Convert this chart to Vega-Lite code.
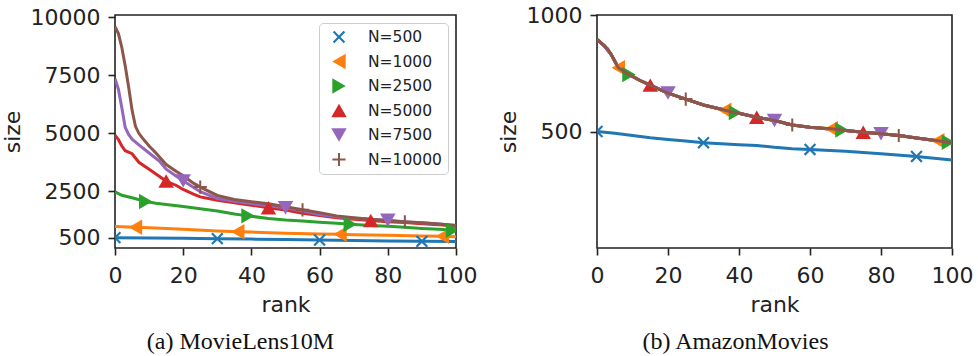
{
  "$schema": "https://vega.github.io/schema/vega-lite/v6.json",
  "background": "white",
  "padding": {"left": 0, "top": 3, "right": 0, "bottom": 0},
  "config": {
    "font": "DejaVu Sans",
    "view": {"stroke": "#222222", "strokeWidth": 1.6},
    "axis": {
      "grid": false,
      "domain": false,
      "ticks": true,
      "tickColor": "#222222",
      "tickSize": 7,
      "tickWidth": 1.6,
      "labelFont": "DejaVu Sans",
      "labelFontSize": 22,
      "labelColor": "#222222",
      "labelPadding": 8,
      "labelFlush": false,
      "labelOverlap": false,
      "format": "d",
      "titleFont": "DejaVu Sans",
      "titleFontSize": 22,
      "titleFontWeight": "normal",
      "titleColor": "#222222",
      "titlePadding": 6
    },
    "axisX": {"labelPadding": 10, "titlePadding": 8},
    "legend": {
      "orient": "top-right",
      "offset": 8,
      "padding": 6,
      "fillColor": "rgba(255,255,255,0.85)",
      "strokeColor": "#cccccc",
      "cornerRadius": 4,
      "labelFont": "DejaVu Sans",
      "labelFontSize": 15.5,
      "labelColor": "#222222",
      "labelOffset": 21,
      "symbolOffset": 6,
      "symbolSize": 240,
      "symbolStrokeWidth": 0,
      "rowPadding": 7.5
    },
    "title": {"font": "Liberation Serif", "fontSize": 24, "fontWeight": "normal", "color": "#111111"}
  },
  "datasets": {
    "lines_a": [
      {"N": "N=500", "rank": 0, "size": 500}, {"N": "N=500", "rank": 10, "size": 487}, {"N": "N=500", "rank": 20, "size": 472}, {"N": "N=500", "rank": 30, "size": 457}, {"N": "N=500", "rank": 40, "size": 438}, {"N": "N=500", "rank": 50, "size": 420}, {"N": "N=500", "rank": 60, "size": 400}, {"N": "N=500", "rank": 70, "size": 382}, {"N": "N=500", "rank": 80, "size": 362}, {"N": "N=500", "rank": 90, "size": 342}, {"N": "N=500", "rank": 100, "size": 330},
      {"N": "N=1000", "rank": 0, "size": 980}, {"N": "N=1000", "rank": 6, "size": 950}, {"N": "N=1000", "rank": 10, "size": 925}, {"N": "N=1000", "rank": 20, "size": 860}, {"N": "N=1000", "rank": 30, "size": 790}, {"N": "N=1000", "rank": 36, "size": 758}, {"N": "N=1000", "rank": 40, "size": 740}, {"N": "N=1000", "rank": 50, "size": 690}, {"N": "N=1000", "rank": 60, "size": 660}, {"N": "N=1000", "rank": 66, "size": 644}, {"N": "N=1000", "rank": 70, "size": 630}, {"N": "N=1000", "rank": 80, "size": 600}, {"N": "N=1000", "rank": 90, "size": 570}, {"N": "N=1000", "rank": 96, "size": 557}, {"N": "N=1000", "rank": 100, "size": 545},
      {"N": "N=2500", "rank": 0, "size": 2480}, {"N": "N=2500", "rank": 2, "size": 2330}, {"N": "N=2500", "rank": 5, "size": 2220}, {"N": "N=2500", "rank": 9, "size": 2060}, {"N": "N=2500", "rank": 12, "size": 1980}, {"N": "N=2500", "rank": 15, "size": 1930}, {"N": "N=2500", "rank": 20, "size": 1840}, {"N": "N=2500", "rank": 25, "size": 1750}, {"N": "N=2500", "rank": 30, "size": 1650}, {"N": "N=2500", "rank": 35, "size": 1520}, {"N": "N=2500", "rank": 39, "size": 1440}, {"N": "N=2500", "rank": 45, "size": 1330}, {"N": "N=2500", "rank": 50, "size": 1260}, {"N": "N=2500", "rank": 55, "size": 1220}, {"N": "N=2500", "rank": 60, "size": 1170}, {"N": "N=2500", "rank": 65, "size": 1120}, {"N": "N=2500", "rank": 69, "size": 1080}, {"N": "N=2500", "rank": 75, "size": 1030}, {"N": "N=2500", "rank": 80, "size": 990}, {"N": "N=2500", "rank": 85, "size": 945}, {"N": "N=2500", "rank": 90, "size": 900}, {"N": "N=2500", "rank": 95, "size": 860}, {"N": "N=2500", "rank": 99, "size": 825}, {"N": "N=2500", "rank": 100, "size": 815},
      {"N": "N=5000", "rank": 0, "size": 4920}, {"N": "N=5000", "rank": 1, "size": 4730}, {"N": "N=5000", "rank": 2, "size": 4450}, {"N": "N=5000", "rank": 3, "size": 4250}, {"N": "N=5000", "rank": 5, "size": 4120}, {"N": "N=5000", "rank": 7, "size": 3750}, {"N": "N=5000", "rank": 10, "size": 3450}, {"N": "N=5000", "rank": 12, "size": 3250}, {"N": "N=5000", "rank": 15, "size": 2940}, {"N": "N=5000", "rank": 18, "size": 2750}, {"N": "N=5000", "rank": 20, "size": 2580}, {"N": "N=5000", "rank": 23, "size": 2380}, {"N": "N=5000", "rank": 25, "size": 2260}, {"N": "N=5000", "rank": 30, "size": 2110}, {"N": "N=5000", "rank": 35, "size": 2010}, {"N": "N=5000", "rank": 40, "size": 1900}, {"N": "N=5000", "rank": 45, "size": 1790}, {"N": "N=5000", "rank": 50, "size": 1690}, {"N": "N=5000", "rank": 55, "size": 1550}, {"N": "N=5000", "rank": 60, "size": 1460}, {"N": "N=5000", "rank": 65, "size": 1360}, {"N": "N=5000", "rank": 70, "size": 1290}, {"N": "N=5000", "rank": 75, "size": 1240}, {"N": "N=5000", "rank": 80, "size": 1190}, {"N": "N=5000", "rank": 85, "size": 1150}, {"N": "N=5000", "rank": 90, "size": 1100}, {"N": "N=5000", "rank": 95, "size": 1060}, {"N": "N=5000", "rank": 100, "size": 1000},
      {"N": "N=7500", "rank": 0, "size": 7350}, {"N": "N=7500", "rank": 1, "size": 6900}, {"N": "N=7500", "rank": 2, "size": 6100}, {"N": "N=7500", "rank": 3, "size": 5250}, {"N": "N=7500", "rank": 4, "size": 4950}, {"N": "N=7500", "rank": 5, "size": 4750}, {"N": "N=7500", "rank": 7, "size": 4500}, {"N": "N=7500", "rank": 10, "size": 4150}, {"N": "N=7500", "rank": 13, "size": 3800}, {"N": "N=7500", "rank": 15, "size": 3450}, {"N": "N=7500", "rank": 18, "size": 3150}, {"N": "N=7500", "rank": 20, "size": 2950}, {"N": "N=7500", "rank": 25, "size": 2480}, {"N": "N=7500", "rank": 30, "size": 2190}, {"N": "N=7500", "rank": 35, "size": 2070}, {"N": "N=7500", "rank": 40, "size": 1970}, {"N": "N=7500", "rank": 45, "size": 1880}, {"N": "N=7500", "rank": 50, "size": 1790}, {"N": "N=7500", "rank": 55, "size": 1650}, {"N": "N=7500", "rank": 60, "size": 1500}, {"N": "N=7500", "rank": 65, "size": 1400}, {"N": "N=7500", "rank": 70, "size": 1340}, {"N": "N=7500", "rank": 75, "size": 1290}, {"N": "N=7500", "rank": 80, "size": 1250}, {"N": "N=7500", "rank": 85, "size": 1190}, {"N": "N=7500", "rank": 90, "size": 1140}, {"N": "N=7500", "rank": 95, "size": 1090}, {"N": "N=7500", "rank": 100, "size": 1030},
      {"N": "N=10000", "rank": 0, "size": 9600}, {"N": "N=10000", "rank": 1, "size": 9300}, {"N": "N=10000", "rank": 2, "size": 8700}, {"N": "N=10000", "rank": 3, "size": 7900}, {"N": "N=10000", "rank": 4, "size": 7000}, {"N": "N=10000", "rank": 5, "size": 6000}, {"N": "N=10000", "rank": 6, "size": 5300}, {"N": "N=10000", "rank": 7, "size": 5000}, {"N": "N=10000", "rank": 8, "size": 4800}, {"N": "N=10000", "rank": 10, "size": 4450}, {"N": "N=10000", "rank": 12, "size": 4150}, {"N": "N=10000", "rank": 15, "size": 3650}, {"N": "N=10000", "rank": 18, "size": 3350}, {"N": "N=10000", "rank": 20, "size": 3170}, {"N": "N=10000", "rank": 23, "size": 2850}, {"N": "N=10000", "rank": 25, "size": 2680}, {"N": "N=10000", "rank": 30, "size": 2320}, {"N": "N=10000", "rank": 35, "size": 2150}, {"N": "N=10000", "rank": 40, "size": 2050}, {"N": "N=10000", "rank": 45, "size": 1960}, {"N": "N=10000", "rank": 50, "size": 1830}, {"N": "N=10000", "rank": 55, "size": 1700}, {"N": "N=10000", "rank": 60, "size": 1580}, {"N": "N=10000", "rank": 65, "size": 1440}, {"N": "N=10000", "rank": 70, "size": 1360}, {"N": "N=10000", "rank": 75, "size": 1290}, {"N": "N=10000", "rank": 80, "size": 1230}, {"N": "N=10000", "rank": 85, "size": 1180}, {"N": "N=10000", "rank": 90, "size": 1140}, {"N": "N=10000", "rank": 95, "size": 1090}, {"N": "N=10000", "rank": 100, "size": 1030}
    ],
    "markers_a": [
      {"N": "N=500", "rank": 0, "size": 500}, {"N": "N=500", "rank": 30, "size": 457}, {"N": "N=500", "rank": 60, "size": 400}, {"N": "N=500", "rank": 90, "size": 342},
      {"N": "N=1000", "rank": 6, "size": 950}, {"N": "N=1000", "rank": 36, "size": 758}, {"N": "N=1000", "rank": 66, "size": 644}, {"N": "N=1000", "rank": 96, "size": 557},
      {"N": "N=2500", "rank": 9, "size": 2060}, {"N": "N=2500", "rank": 39, "size": 1440}, {"N": "N=2500", "rank": 69, "size": 1080}, {"N": "N=2500", "rank": 99, "size": 825},
      {"N": "N=5000", "rank": 15, "size": 2940}, {"N": "N=5000", "rank": 45, "size": 1790}, {"N": "N=5000", "rank": 75, "size": 1240},
      {"N": "N=7500", "rank": 20, "size": 2950}, {"N": "N=7500", "rank": 50, "size": 1790}, {"N": "N=7500", "rank": 80, "size": 1250},
      {"N": "N=10000", "rank": 25, "size": 2680}, {"N": "N=10000", "rank": 55, "size": 1700}, {"N": "N=10000", "rank": 85, "size": 1180}
    ],
    "lines_b": [
      {"N": "N=500", "rank": 0, "size": 500}, {"N": "N=500", "rank": 5, "size": 492}, {"N": "N=500", "rank": 10, "size": 483}, {"N": "N=500", "rank": 15, "size": 473}, {"N": "N=500", "rank": 20, "size": 466}, {"N": "N=500", "rank": 25, "size": 459}, {"N": "N=500", "rank": 30, "size": 452}, {"N": "N=500", "rank": 40, "size": 443}, {"N": "N=500", "rank": 45, "size": 440}, {"N": "N=500", "rank": 50, "size": 432}, {"N": "N=500", "rank": 55, "size": 426}, {"N": "N=500", "rank": 60, "size": 423}, {"N": "N=500", "rank": 70, "size": 415}, {"N": "N=500", "rank": 80, "size": 405}, {"N": "N=500", "rank": 90, "size": 393}, {"N": "N=500", "rank": 100, "size": 378},
      {"N": "N=1000", "rank": 0, "size": 895}, {"N": "N=1000", "rank": 2, "size": 869}, {"N": "N=1000", "rank": 4, "size": 830}, {"N": "N=1000", "rank": 6, "size": 774}, {"N": "N=1000", "rank": 9, "size": 745}, {"N": "N=1000", "rank": 12, "size": 720}, {"N": "N=1000", "rank": 15, "size": 699}, {"N": "N=1000", "rank": 20, "size": 665}, {"N": "N=1000", "rank": 25, "size": 639}, {"N": "N=1000", "rank": 30, "size": 614}, {"N": "N=1000", "rank": 36, "size": 591}, {"N": "N=1000", "rank": 40, "size": 578}, {"N": "N=1000", "rank": 45, "size": 561}, {"N": "N=1000", "rank": 50, "size": 547}, {"N": "N=1000", "rank": 55, "size": 528}, {"N": "N=1000", "rank": 60, "size": 518}, {"N": "N=1000", "rank": 66, "size": 512}, {"N": "N=1000", "rank": 70, "size": 504}, {"N": "N=1000", "rank": 75, "size": 497}, {"N": "N=1000", "rank": 80, "size": 490}, {"N": "N=1000", "rank": 85, "size": 483}, {"N": "N=1000", "rank": 90, "size": 472}, {"N": "N=1000", "rank": 96, "size": 460}, {"N": "N=1000", "rank": 100, "size": 452},
      {"N": "N=2500", "rank": 0, "size": 895}, {"N": "N=2500", "rank": 2, "size": 869}, {"N": "N=2500", "rank": 4, "size": 830}, {"N": "N=2500", "rank": 6, "size": 774}, {"N": "N=2500", "rank": 9, "size": 745}, {"N": "N=2500", "rank": 12, "size": 720}, {"N": "N=2500", "rank": 15, "size": 699}, {"N": "N=2500", "rank": 20, "size": 665}, {"N": "N=2500", "rank": 25, "size": 639}, {"N": "N=2500", "rank": 30, "size": 614}, {"N": "N=2500", "rank": 39, "size": 581}, {"N": "N=2500", "rank": 45, "size": 561}, {"N": "N=2500", "rank": 50, "size": 547}, {"N": "N=2500", "rank": 55, "size": 528}, {"N": "N=2500", "rank": 60, "size": 518}, {"N": "N=2500", "rank": 69, "size": 506}, {"N": "N=2500", "rank": 75, "size": 497}, {"N": "N=2500", "rank": 80, "size": 490}, {"N": "N=2500", "rank": 85, "size": 483}, {"N": "N=2500", "rank": 90, "size": 472}, {"N": "N=2500", "rank": 99, "size": 454}, {"N": "N=2500", "rank": 100, "size": 452},
      {"N": "N=5000", "rank": 0, "size": 895}, {"N": "N=5000", "rank": 2, "size": 869}, {"N": "N=5000", "rank": 4, "size": 830}, {"N": "N=5000", "rank": 6, "size": 774}, {"N": "N=5000", "rank": 9, "size": 745}, {"N": "N=5000", "rank": 12, "size": 720}, {"N": "N=5000", "rank": 15, "size": 699}, {"N": "N=5000", "rank": 20, "size": 665}, {"N": "N=5000", "rank": 25, "size": 639}, {"N": "N=5000", "rank": 30, "size": 614}, {"N": "N=5000", "rank": 40, "size": 578}, {"N": "N=5000", "rank": 45, "size": 561}, {"N": "N=5000", "rank": 50, "size": 547}, {"N": "N=5000", "rank": 55, "size": 528}, {"N": "N=5000", "rank": 60, "size": 518}, {"N": "N=5000", "rank": 70, "size": 504}, {"N": "N=5000", "rank": 75, "size": 497}, {"N": "N=5000", "rank": 80, "size": 490}, {"N": "N=5000", "rank": 85, "size": 483}, {"N": "N=5000", "rank": 90, "size": 472}, {"N": "N=5000", "rank": 100, "size": 452},
      {"N": "N=7500", "rank": 0, "size": 895}, {"N": "N=7500", "rank": 2, "size": 869}, {"N": "N=7500", "rank": 4, "size": 830}, {"N": "N=7500", "rank": 6, "size": 774}, {"N": "N=7500", "rank": 9, "size": 745}, {"N": "N=7500", "rank": 12, "size": 720}, {"N": "N=7500", "rank": 15, "size": 699}, {"N": "N=7500", "rank": 20, "size": 665}, {"N": "N=7500", "rank": 25, "size": 639}, {"N": "N=7500", "rank": 30, "size": 614}, {"N": "N=7500", "rank": 40, "size": 578}, {"N": "N=7500", "rank": 45, "size": 561}, {"N": "N=7500", "rank": 50, "size": 547}, {"N": "N=7500", "rank": 55, "size": 528}, {"N": "N=7500", "rank": 60, "size": 518}, {"N": "N=7500", "rank": 70, "size": 504}, {"N": "N=7500", "rank": 75, "size": 497}, {"N": "N=7500", "rank": 80, "size": 490}, {"N": "N=7500", "rank": 85, "size": 483}, {"N": "N=7500", "rank": 90, "size": 472}, {"N": "N=7500", "rank": 100, "size": 452},
      {"N": "N=10000", "rank": 0, "size": 895}, {"N": "N=10000", "rank": 2, "size": 869}, {"N": "N=10000", "rank": 3, "size": 855}, {"N": "N=10000", "rank": 4, "size": 830}, {"N": "N=10000", "rank": 5, "size": 803}, {"N": "N=10000", "rank": 6, "size": 774}, {"N": "N=10000", "rank": 8, "size": 753}, {"N": "N=10000", "rank": 9, "size": 745}, {"N": "N=10000", "rank": 10, "size": 736}, {"N": "N=10000", "rank": 12, "size": 720}, {"N": "N=10000", "rank": 15, "size": 699}, {"N": "N=10000", "rank": 18, "size": 678}, {"N": "N=10000", "rank": 20, "size": 665}, {"N": "N=10000", "rank": 25, "size": 639}, {"N": "N=10000", "rank": 30, "size": 614}, {"N": "N=10000", "rank": 36, "size": 591}, {"N": "N=10000", "rank": 39, "size": 581}, {"N": "N=10000", "rank": 40, "size": 578}, {"N": "N=10000", "rank": 45, "size": 561}, {"N": "N=10000", "rank": 50, "size": 547}, {"N": "N=10000", "rank": 55, "size": 528}, {"N": "N=10000", "rank": 60, "size": 518}, {"N": "N=10000", "rank": 66, "size": 512}, {"N": "N=10000", "rank": 69, "size": 506}, {"N": "N=10000", "rank": 70, "size": 504}, {"N": "N=10000", "rank": 75, "size": 497}, {"N": "N=10000", "rank": 80, "size": 490}, {"N": "N=10000", "rank": 85, "size": 483}, {"N": "N=10000", "rank": 90, "size": 472}, {"N": "N=10000", "rank": 96, "size": 460}, {"N": "N=10000", "rank": 99, "size": 454}, {"N": "N=10000", "rank": 100, "size": 452}
    ],
    "markers_b": [
      {"N": "N=500", "rank": 0, "size": 500}, {"N": "N=500", "rank": 30, "size": 452}, {"N": "N=500", "rank": 60, "size": 423}, {"N": "N=500", "rank": 90, "size": 393},
      {"N": "N=1000", "rank": 6, "size": 774}, {"N": "N=1000", "rank": 36, "size": 591}, {"N": "N=1000", "rank": 66, "size": 512}, {"N": "N=1000", "rank": 96, "size": 460},
      {"N": "N=2500", "rank": 9, "size": 745}, {"N": "N=2500", "rank": 39, "size": 581}, {"N": "N=2500", "rank": 69, "size": 506}, {"N": "N=2500", "rank": 99, "size": 454},
      {"N": "N=5000", "rank": 15, "size": 699}, {"N": "N=5000", "rank": 45, "size": 561}, {"N": "N=5000", "rank": 75, "size": 497},
      {"N": "N=7500", "rank": 20, "size": 665}, {"N": "N=7500", "rank": 50, "size": 547}, {"N": "N=7500", "rank": 80, "size": 490},
      {"N": "N=10000", "rank": 25, "size": 639}, {"N": "N=10000", "rank": 55, "size": 528}, {"N": "N=10000", "rank": 85, "size": 483}
    ]
  },
  "resolve": {"legend": {"color": "independent", "shape": "independent"}},
  "bounds": "flush",
  "spacing": 141,
  "hconcat": [
    {
      "width": 341,
      "height": 233,
      "title": {"text": "(a) MovieLens10M", "orient": "bottom", "anchor": "middle", "frame": "group", "dx": -45, "offset": 15},
      "encoding": {
        "x": {"field": "rank", "type": "quantitative", "title": "rank", "scale": {"domain": [0, 100], "nice": false, "zero": false}, "axis": {"values": [0, 20, 40, 60, 80, 100]}},
        "y": {"field": "size", "type": "quantitative", "title": "size", "scale": {"domain": [55, 10100], "nice": false, "zero": false}, "axis": {"values": [500, 2500, 5000, 7500, 10000]}}
      },
      "layer": [
        {
          "data": {"name": "lines_a"},
          "mark": {"type": "line", "strokeWidth": 3, "clip": true},
          "encoding": {
            "stroke": {"field": "N", "type": "nominal", "legend": null, "scale": {"domain": ["N=500", "N=1000", "N=2500", "N=5000", "N=7500", "N=10000"], "range": ["#1f77b4", "#ff7f0e", "#2ca02c", "#d62728", "#9467bd", "#8c564b"]}}
          }
        },
        {
          "data": {"name": "markers_a"},
          "mark": {"type": "point", "filled": true, "opacity": 1, "size": 240, "clip": true},
          "encoding": {
            "color": {"field": "N", "type": "nominal", "title": null, "scale": {"domain": ["N=500", "N=1000", "N=2500", "N=5000", "N=7500", "N=10000"], "range": ["#1f77b4", "#ff7f0e", "#2ca02c", "#d62728", "#9467bd", "#8c564b"]}},
            "shape": {"field": "N", "type": "nominal", "title": null, "scale": {"domain": ["N=500", "N=1000", "N=2500", "N=5000", "N=7500", "N=10000"], "range": ["M0.6,-0.8L0.8,-0.6L0.2,0L0.8,0.6L0.6,0.8L0,0.2L-0.6,0.8L-0.8,0.6L-0.2,0L-0.8,-0.6L-0.6,-0.8L0,-0.2Z", "triangle-left", "triangle-right", "triangle-up", "triangle-down", "M-0.13,-0.85L0.13,-0.85L0.13,-0.13L0.85,-0.13L0.85,0.13L0.13,0.13L0.13,0.85L-0.13,0.85L-0.13,0.13L-0.85,0.13L-0.85,-0.13L-0.13,-0.13Z"]}}
          }
        }
      ]
    },
    {
      "width": 355,
      "height": 233,
      "title": {"text": "(b) AmazonMovies", "orient": "bottom", "anchor": "middle", "frame": "group", "dx": -39, "offset": 15},
      "encoding": {
        "x": {"field": "rank", "type": "quantitative", "title": "rank", "scale": {"domain": [0, 100], "nice": false, "zero": false}, "axis": {"values": [0, 20, 40, 60, 80, 100]}},
        "y": {"field": "size", "type": "quantitative", "title": "size", "scale": {"domain": [0, 1000], "nice": false}, "axis": {"values": [500, 1000]}},
        "color": {"field": "N", "type": "nominal", "legend": null, "scale": {"domain": ["N=500", "N=1000", "N=2500", "N=5000", "N=7500", "N=10000"], "range": ["#1f77b4", "#ff7f0e", "#2ca02c", "#d62728", "#9467bd", "#8c564b"]}}
      },
      "layer": [
        {
          "data": {"name": "lines_b"},
          "transform": [{"filter": "datum.N !== 'N=10000'"}],
          "mark": {"type": "line", "strokeWidth": 3, "clip": true}
        },
        {
          "data": {"name": "markers_b"},
          "transform": [{"filter": "datum.N !== 'N=10000'"}],
          "mark": {"type": "point", "filled": true, "opacity": 1, "size": 240, "clip": true},
          "encoding": {
            "shape": {"field": "N", "type": "nominal", "legend": null, "scale": {"domain": ["N=500", "N=1000", "N=2500", "N=5000", "N=7500", "N=10000"], "range": ["M0.6,-0.8L0.8,-0.6L0.2,0L0.8,0.6L0.6,0.8L0,0.2L-0.6,0.8L-0.8,0.6L-0.2,0L-0.8,-0.6L-0.6,-0.8L0,-0.2Z", "triangle-left", "triangle-right", "triangle-up", "triangle-down", "M-0.13,-0.85L0.13,-0.85L0.13,-0.13L0.85,-0.13L0.85,0.13L0.13,0.13L0.13,0.85L-0.13,0.85L-0.13,0.13L-0.85,0.13L-0.85,-0.13L-0.13,-0.13Z"]}}
          }
        },
        {
          "data": {"name": "lines_b"},
          "transform": [{"filter": "datum.N === 'N=10000'"}],
          "mark": {"type": "line", "strokeWidth": 3, "clip": true}
        },
        {
          "data": {"name": "markers_b"},
          "transform": [{"filter": "datum.N === 'N=10000'"}],
          "mark": {"type": "point", "filled": true, "opacity": 1, "size": 240, "clip": true},
          "encoding": {
            "shape": {"field": "N", "type": "nominal", "legend": null, "scale": {"domain": ["N=500", "N=1000", "N=2500", "N=5000", "N=7500", "N=10000"], "range": ["M0.6,-0.8L0.8,-0.6L0.2,0L0.8,0.6L0.6,0.8L0,0.2L-0.6,0.8L-0.8,0.6L-0.2,0L-0.8,-0.6L-0.6,-0.8L0,-0.2Z", "triangle-left", "triangle-right", "triangle-up", "triangle-down", "M-0.13,-0.85L0.13,-0.85L0.13,-0.13L0.85,-0.13L0.85,0.13L0.13,0.13L0.13,0.85L-0.13,0.85L-0.13,0.13L-0.85,0.13L-0.85,-0.13L-0.13,-0.13Z"]}}
          }
        }
      ]
    }
  ]
}
